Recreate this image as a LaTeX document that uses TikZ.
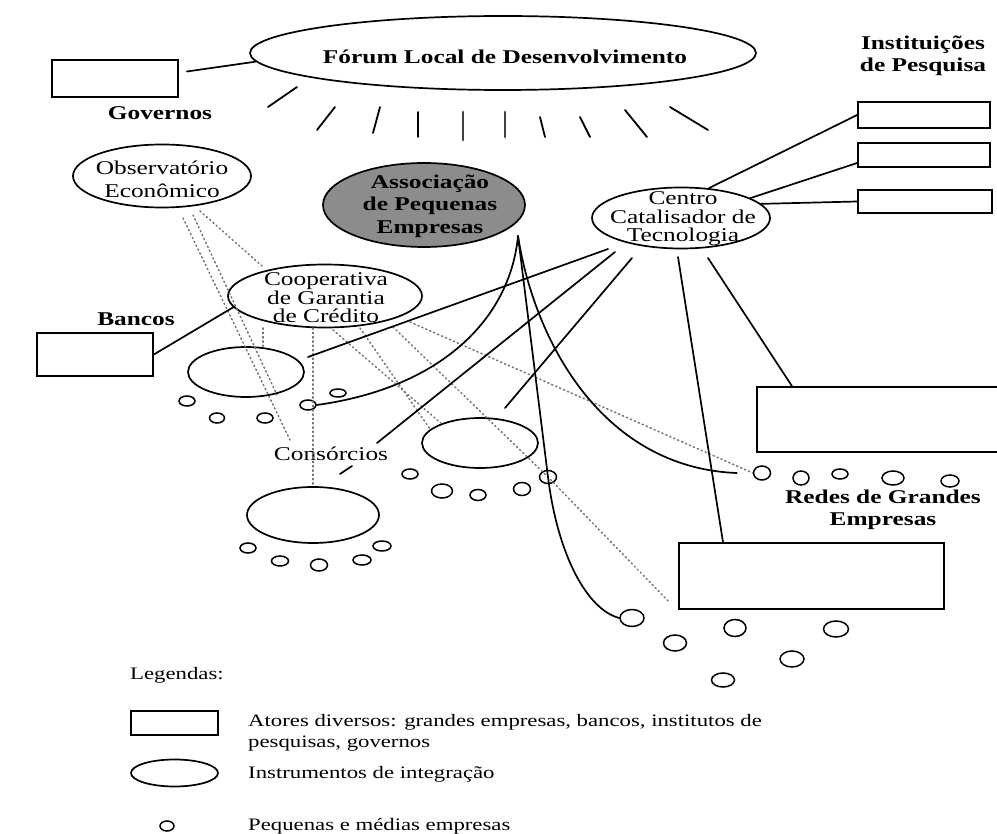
\documentclass[tikz,border=0pt]{standalone}
\usepackage{fontspec}
\setmainfont{Liberation Serif}[FakeStretch=1.3]
\usetikzlibrary{shapes.geometric}
\begin{document}
\begin{tikzpicture}[x=1pt,y=-1pt,
  ln/.style={line width=1.7pt, line cap=round},
  dotln/.style={line width=1.5pt, black!55, dash pattern=on 1.3pt off 3pt, line cap=round},
  ell/.style={draw, ellipse, line width=1.7pt, inner sep=0pt},
  box/.style={draw, rectangle, line width=1.7pt, inner sep=0pt},
  sme/.style 2 args={draw, ellipse, line width=1.5pt, inner sep=0pt, minimum width=#1, minimum height=#2},
  lbl/.style={font=\fontsize{19.5}{22}\selectfont, align=center, inner sep=0pt},
  lblb/.style={font=\fontsize{19.5}{22}\selectfont\bfseries, align=center, inner sep=0pt},
  leg/.style={font=\fontsize{17.5}{21}\selectfont, align=left, inner sep=0pt},
  ray/.style={line width=1.8pt, line cap=round},
  rayb/.style={line width=2.8pt, black!75, line cap=round}
]
\useasboundingbox (0,0) rectangle (997,834);
\fill[white] (0,0) rectangle (997,834);

% ---------- shapes ----------
\node[ell, minimum width=506, minimum height=74] (forum) at (503,53) {};
\node[box, minimum width=126, minimum height=37] (gov) at (115,78.5) {};
\node[box, minimum width=132, minimum height=26] (inst1) at (924,115) {};
\node[box, minimum width=132, minimum height=24] (inst2) at (924,155) {};
\node[box, minimum width=134, minimum height=23] (inst3) at (925,201.5) {};
\node[ell, minimum width=178, minimum height=63] (obs) at (162,176) {};
\node[ell, fill=black!45, minimum width=202, minimum height=84] (assoc) at (424,205) {};
\node[ell, minimum width=178, minimum height=61] (centro) at (681,218) {};
\node[ell, minimum width=194, minimum height=63] (coop) at (325,296) {};
\node[box, minimum width=116, minimum height=43] (bancos) at (95,354.5) {};
\node[ell, minimum width=116, minimum height=50] (ellA) at (246,372) {};
\node[ell, minimum width=132, minimum height=56] (ellB) at (313,515) {};
\node[ell, minimum width=116, minimum height=50] (ellC) at (480,443) {};
\node[box, minimum width=250, minimum height=65] (redes) at (882,419.5) {};
\node[box, minimum width=265, minimum height=66] (bigrect) at (811.5,576) {};

% small firms
\node[sme={16}{10}] (sA1) at (187,401) {};
\node[sme={15}{10}] (sA2) at (217,418) {};
\node[sme={16}{10}] (sA3) at (265,418) {};
\node[sme={16}{10}] (sA4) at (308,405) {};
\node[sme={16}{8}]  (sA5) at (338,393) {};
\node[sme={16}{10}] (sB1) at (248,548) {};
\node[sme={17}{10}] (sB2) at (280,561) {};
\node[sme={17}{12}] (sB3) at (319,565) {};
\node[sme={18}{10}] (sB4) at (362,560) {};
\node[sme={18}{10}] (sB5) at (382,546) {};
\node[sme={16}{10}] (sC1) at (410,474) {};
\node[sme={21}{14}] (sC2) at (442,491) {};
\node[sme={16}{11}] (sC3) at (478,495) {};
\node[sme={17}{13}] (sC4) at (522,489) {};
\node[sme={17}{13}] (sC5) at (548,477) {};
\node[sme={17}{14}] (sR1) at (762,473) {};
\node[sme={16}{14}] (sR2) at (801,478) {};
\node[sme={16}{10}] (sR3) at (840,474) {};
\node[sme={22}{14}] (sR4) at (893,478) {};
\node[sme={18}{12}] (sR5) at (950,481) {};
\node[sme={24}{17}] (sD1) at (632,618) {};
\node[sme={23}{16}] (sD2) at (675,643) {};
\node[sme={22}{17}] (sD3) at (735,628) {};
\node[sme={25}{16}] (sD4) at (836,629) {};
\node[sme={24}{16}] (sD5) at (792,659) {};
\node[sme={23}{14}] (sD6) at (723,680) {};

% ---------- texts ----------
\node[lblb] (tforum) at (505,57) {Fórum Local de Desenvolvimento};
\node[lblb] (tgov) at (160,113) {Governos};
\node[lblb] (tinst) at (923,56) {Instituições\\de Pesquisa};
\node[lbl, font=\fontsize{19.5}{23}\selectfont] (tobs) at (162,179) {Observatório\\Econômico};
\node[lblb, font=\fontsize{19.5}{22.5}\selectfont\bfseries] (tassoc) at (430,206) {Associação\\de Pequenas\\Empresas};
\node[lbl, font=\fontsize{19.5}{18.5}\selectfont] (tcen) at (683,219) {Centro\\Catalisador de\\Tecnologia};
\node[lbl, font=\fontsize{19.5}{18.5}\selectfont] (tcoop) at (326,298) {Cooperativa\\de Garantia\\de Crédito};
\node[lblb] (tban) at (136,319) {Bancos};
\node[lbl] (cons) at (331,454) {Consórcios};
\node[lblb] (tredes) at (883,510) {Redes de Grandes\\Empresas};

% ---------- rays under the forum ----------
\draw[ray] (297,87) -- (268,107);
\draw[ray] (335,107) -- (317,130);
\draw[ray] (380,107) -- (373,133);
\draw[ray] (418,112) -- (418,137);
\draw[rayb] (463,112) -- (463,140);
\draw[rayb] (505,112) -- (505,137);
\draw[ray] (540,117) -- (545,137);
\draw[ray] (580,117) -- (590,137);
\draw[ray] (625,110) -- (647,137);
\draw[ray] (670,107) -- (708,130);

% ---------- dotted connectors ----------
\draw[dotln] ([shift={(21,42)}]obs.center) -- ([shift={(-41,-14)}]cons.center);
\draw[dotln] ([shift={(31,39)}]obs.center) -- ([shift={(31,23)}]ellA.center);
\draw[dotln] ([shift={(38,35)}]obs.center) -- ([shift={(-63,-30)}]coop.center);
\draw[dotln] ([shift={(-62,32)}]coop.center) -- ([xshift=17pt]ellA.north);
\draw[dotln] ([shift={(-12,32)}]coop.center) -- (ellB.north);
\draw[dotln] ([shift={(8,34)}]coop.center) -- ([shift={(-38,-19)}]ellC.center);
\draw[dotln] ([shift={(35,32)}]coop.center) -- ([shift={(-50,-14)}]ellC.center);
\draw[dotln] ([shift={(68,31)}]coop.center) -- (sC5.center) -- ([shift={(-9,26)}]bigrect.west);
\draw[dotln] ([shift={(85,26)}]coop.center) -- (sR1.west);

% ---------- solid connectors ----------
\draw[ln] ([shift={(8,-7)}]gov.east) -- (forum.182);
\draw[ln] (bancos.east) -- (coop.187);
\draw[ln] (centro.47) -- (inst1.west);
\draw[ln] (centro.16) -- ([yshift=-8pt]inst2.west);
\draw[ln] (centro.10) -- (inst3.west);
\draw[ln] ([shift={(-73,31)}]centro.center) -- ([shift={(62,-15)}]ellA.center);
\draw[ln] ([shift={(-66,34)}]centro.center) -- ([shift={(46,-11)}]cons.center);
\draw[ln] ([shift={(-49,40)}]centro.center) -- ([shift={(25,-35)}]ellC.center);
\draw[ln] ([shift={(-3,39)}]centro.center) -- ([xshift=-88.5pt]bigrect.north);
\draw[ln] ([shift={(27,40)}]centro.center) -- ([xshift=-90pt]redes.north);

\coordinate (aS) at ([shift={(94,31)}]assoc.center);
\draw[ln] (aS) .. controls (510,320) and (440,388) .. (sA4.east);
\draw[ln] (aS) -- (sC5.center) .. controls (558,557) and (588,610) .. (sD1.west);
\draw[ln] (aS) .. controls (535,345) and (605,468) .. ([xshift=-16pt]sR1.west);
\draw[ln] ([shift={(9,20)}]cons.center) -- ([shift={(21,12)}]cons.center);

% ---------- legend ----------
\node[leg, anchor=west] (tleg) at (130,675) {Legendas:};
\node[box, minimum width=87, minimum height=24] (lrect) at (174.5,723) {};
\node[leg, anchor=west] (tl1) at (248,733) {Atores diversos: grandes empresas, bancos, institutos de\\pesquisas, governos};
\node[ell, minimum width=87, minimum height=27] (lell) at (174.5,773) {};
\node[leg, anchor=west] (tl2) at (248,774) {Instrumentos de integração};
\node[sme={14}{10}] (lsme) at (167,826) {};
\node[leg, anchor=west] (tl3) at (248,826) {Pequenas e médias empresas};
\end{tikzpicture}
\end{document}
